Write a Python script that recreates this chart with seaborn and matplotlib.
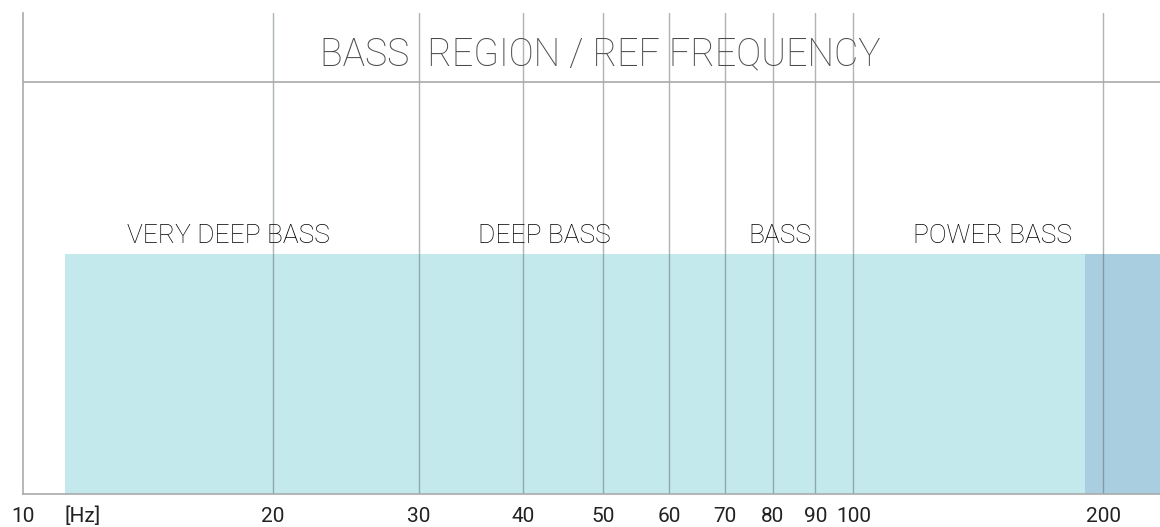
import numpy as np
import matplotlib
matplotlib.use("Agg")
import matplotlib.pyplot as plt
import seaborn as sns

# data
band_edges = [11.25, 190, 234]          # light band 11.25-190 Hz, dark band 190-234 Hz
band_colors = ["#c4e9ec", "#a8cedf"]
band_height = 0.5
grid_freqs = [20, 30, 40, 50, 60, 70, 80, 90, 100, 200]
tick_freqs = [10, 20, 30, 40, 50, 60, 70, 80, 90, 100, 200]
tick_labels = ["10", "20", "30", "40", "50", "60", "70", "80", "90", "100", "200"]
region_names = ["VERY DEEP BASS", "DEEP BASS", "BASS", "POWER BASS"]
region_centers = [17.7, 42.5, 81.5, 147]
title = "BASS  REGION / REF FREQUENCY"

sns.set_theme(style="white")
plt.rcParams['font.family'] = ['Roboto', 'DejaVu Sans']

fig = plt.figure(figsize=(11.6, 5.27), dpi=100)
ax = fig.add_axes([0.0198, 0.0626, 0.9802, 0.9124])
ax.set_xscale("log")
ax.set_xlim(10, band_edges[-1])
ax.set_ylim(0, 1)

lefts = band_edges[:-1]
widths = np.diff(band_edges)
ax.bar(lefts, [band_height] * len(lefts), width=widths, align="edge",
       color=band_colors, linewidth=0, zorder=1)

for f in grid_freqs:
    ax.axvline(f, color="#5a6a6c", alpha=0.5, lw=1, zorder=2)
ax.axhline(0.857, color="#aaaaaa", lw=1.2, zorder=2)

for name, c in zip(region_names, region_centers):
    ax.text(c, 0.512, name, ha="center", va="bottom", fontsize=19,
            color="#000000", fontweight="light", zorder=3)

ax.text(np.sqrt(10 * band_edges[-1]) * 1.026, 0.913, title, ha="center", va="center",
        fontsize=27, color="#4a4a4a", fontweight="light", zorder=3)

ax.set_xticks(tick_freqs)
ax.set_xticklabels(tick_labels, fontsize=15, color="#222222")
ax.xaxis.set_minor_locator(matplotlib.ticker.NullLocator())
ax.tick_params(axis="x", length=0, pad=9)
ax.set_yticks([])
ax.annotate("[Hz]", xy=(11.8, 0), xycoords=("data", "axes fraction"),
            xytext=(0, -9), textcoords="offset points", ha="center", va="top",
            fontsize=15, color="#222222")

for s in ["top", "right"]:
    ax.spines[s].set_visible(False)
for s in ["left", "bottom"]:
    ax.spines[s].set_color("#aaaaaa")
    ax.spines[s].set_linewidth(1.2)
    ax.spines[s].set_zorder(4)

fig.savefig("out.png", dpi=100)
